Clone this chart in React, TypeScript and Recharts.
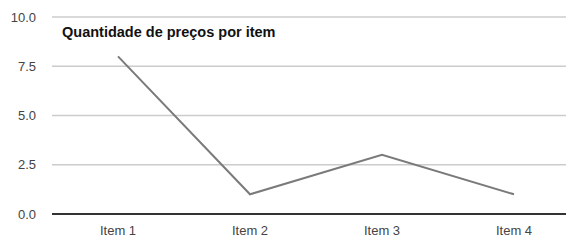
import { LineChart, Line, XAxis, YAxis, CartesianGrid, ReferenceLine } from "recharts"

const items = ["Item 1", "Item 2", "Item 3", "Item 4"]
const prices = [8, 1, 3, 1]
const yTicks = [0, 2.5, 5, 7.5, 10]
const title = "Quantidade de preços por item"

const data = items.map((name, i) => ({ name, value: prices[i] }))

export default function App() {
  return (
    <div style={{ position: "fixed", left: 0, top: 0, width: 566, height: 240, overflow: "hidden", background: "#fff", fontFamily: "'Liberation Sans', Arial, sans-serif" }}>
      <LineChart width={566} height={240} data={data} margin={{ top: 17, right: 0, left: 0, bottom: 0 }}>
        <CartesianGrid vertical={false} stroke="#cccccc" strokeWidth={1.5} />
        <XAxis
          dataKey="name"
          height={26}
          padding={{ left: 66, right: 52 }}
          axisLine={false}
          tickLine={false}
          tickMargin={6}
          tick={{ fill: "#444", fontSize: 13 }}
        />
        <YAxis
          width={52}
          domain={[0, 10]}
          ticks={yTicks}
          axisLine={false}
          tickLine={false}
          tickMargin={10}
          tickFormatter={(v: number) => v.toFixed(1)}
          tick={{ fill: "#444", fontSize: 13 }}
        />
        <ReferenceLine y={0} stroke="#333" strokeWidth={2} />
        <Line type="linear" dataKey="value" stroke="#7a7a7a" strokeWidth={2} dot={false} isAnimationActive={false} />
      </LineChart>
      <div style={{ position: "absolute", left: 62, top: 24, fontSize: 14.5, fontWeight: "bold", color: "#111" }}>{title}</div>
    </div>
  )
}
